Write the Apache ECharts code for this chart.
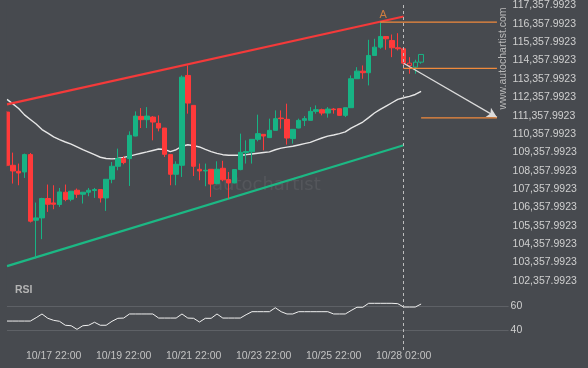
<!DOCTYPE html>
<html><head><meta charset="utf-8">
<script src="https://cdn.jsdelivr.net/npm/echarts@6/dist/echarts.min.js"></script>
<style>html,body{margin:0;padding:0;background:#474a4f}#c{width:588px;height:368px}</style>
</head><body><div id="c"></div>
<script>
const opens = [111551,108652,108326,108288,109234,105660,105785,106841,106601,106514,107183,106802,107292,107074,107183,107276,107330,106873,107890,108598,109016,109016,110246,111318,111138,111280,110937,110681,109234,108162,108652,113548,111916,108434,108342,108434,107657,108489,107874,107689,108418,109343,109386,110066,110338,110159,110556,111225,111154,110105,110681,111100,111100,111590,111682,111497,111715,111737,111372,111791,113368,113782,113695,114636,115088,115670,115452,115055,115000,114217,113999,114271];
const closes = [108652,108342,108233,109234,105606,105785,106841,106530,106530,107200,106786,107238,107074,107183,107292,107330,106873,107890,108598,109016,108799,110284,111334,111138,111334,111008,110681,109250,108162,108706,113455,112041,108598,108342,108380,107629,108434,107863,107689,108418,109359,109403,110066,110377,110246,110556,111193,111193,110137,110610,111100,111193,111590,111682,111497,111715,111682,111372,111791,113368,113782,113695,114636,115088,115670,115544,115055,115000,114217,114092,114271,114690];
const highs = [111600,109343,108745,109289,109321,106623,106880,107602,107564,107417,107602,107238,107385,107200,107417,107417,107330,107890,108832,109560,109142,110502,111590,111769,111824,111334,111372,110681,109234,108870,113548,114092,111916,108745,108745,108434,108870,108897,108288,108434,110377,110012,110066,111410,110338,111193,111644,111644,112009,110610,111193,111334,111824,111916,111737,111824,111769,111737,111791,113548,113999,114092,115490,115544,116447,115670,115778,115849,115000,114543,114402,114690];
const lows = [108598,107657,107564,107961,105535,103577,104626,106112,106258,106384,106694,106694,106873,106569,106966,106873,106623,106166,107673,108380,108706,107526,110230,110681,110681,110012,110502,109104,107564,107564,108016,111464,108070,107836,107510,106928,107618,107782,106841,107673,108380,108745,108745,109958,109468,110148,110556,110649,109778,109833,110665,110790,111100,111464,111372,111247,111464,111345,111280,111791,113368,113368,113004,114636,115000,114946,114543,114908,113912,113640,113640,114184];
const movingAvg = [112242,112000,111750,111400,111150,110900,110600,110400,110200,110050,109920,109800,109650,109500,109370,109230,109090,109020,109000,109020,109080,109150,109230,109310,109380,109460,109540,109520,109400,109500,109690,109770,109720,109650,109520,109400,109300,109230,109200,109195,109195,109230,109270,109310,109350,109380,109500,109590,109640,109690,109760,109830,109900,110020,110140,110240,110300,110380,110470,110680,110840,111010,111250,111500,111700,111880,112060,112240,112330,112410,112510,112680];
const rsiValues = [47.7,47.7,47.7,47.7,47.7,50.5,53.6,50,48.3,47.5,44.2,43.8,40.8,43.8,44.2,46.7,44.2,44.2,47.5,50,50.2,53.6,53.6,53.6,53.6,53.6,50.2,50.2,50.2,50.2,53.6,50.2,50,46.9,50,50,53.6,50.2,50.2,50.2,50.2,53,55.5,55.5,55.5,55.5,58.8,55.5,53.6,53.6,55.5,55.5,55.5,55.5,55.5,55.5,53.6,53.6,53.6,56.5,59.2,59.2,62.5,62.5,62.5,62.5,62.5,62.2,59.4,59.4,59.4,61.9];
const hollowFrom = 69;
const categoryCount = 87;
const tickIndex = [8,20,32,44,56,68];
const tickLabels = ['10/17 22:00','10/19 22:00','10/21 22:00','10/23 22:00','10/25 22:00','10/28 02:00'];
const priceTicks = [102357.9923,103357.9923,104357.9923,105357.9923,106357.9923,107357.9923,108357.9923,109357.9923,110357.9923,111357.9923,112357.9923,113357.9923,114357.9923,115357.9923,116357.9923,117357.9923];
const rsiTicks = [40,60];
const upperChannel = [[0,111970],[68,116758]];
const lowerChannel = [[0,103158],[68,109740]];
const levelA = [[64,116447],[84,116447]];
const levelBreak = [[68,113929],[84,113929]];
const levelTarget = [[71,111235],[84,111235]];
const forecastArrow = [[68,114210],[84,111263]];
const pointA = [[64,116447]];
const nowIndex = 68;

const categories = Array.from({length: categoryCount}, (_, i) => String(i));
const up = '#17b384', down = '#ff3a3a', orange = '#f08a3c', bg = '#474a4f';
const font = "'Liberation Sans', Arial, sans-serif";

const candleData = opens.map((o, i) => {
  const item = {value: [o, closes[i], lows[i], highs[i]]};
  if (i >= hollowFrom) item.itemStyle = {color: 'rgba(0,0,0,0)', color0: 'rgba(0,0,0,0)'};
  return item;
});

const chart = echarts.init(document.getElementById('c'), null, {renderer: 'canvas'});
const lineS = (data, color, width, z) => ({type: 'line', data, xAxisIndex: 0, yAxisIndex: 0, symbol: 'none', silent: true,
  lineStyle: {color, width}, z, animation: false, clip: true});

chart.setOption({
  backgroundColor: bg,
  animation: false,
  textStyle: {fontFamily: font},
  grid: [
    {left: 7, top: 4, width: 501.6, height: 346},
    {left: 7, top: 306.3, width: 501.6, height: 24}
  ],
  xAxis: [
    {type: 'category', gridIndex: 0, data: categories, boundaryGap: false, show: false},
    {type: 'category', gridIndex: 1, data: categories, boundaryGap: false,
     axisLine: {show: false}, axisTick: {show: false}, splitLine: {show: false},
     axisLabel: {interval: 0, margin: 20, color: '#c2c2c2', fontSize: 10.5, fontFamily: font,
       formatter: (v, i) => { const k = tickIndex.indexOf(i); return k >= 0 ? tickLabels[k] : ''; }}}
  ],
  yAxis: [
    {type: 'value', gridIndex: 0, position: 'right', min: 98588, max: 117412, scale: true,
     axisLine: {show: false}, axisTick: {show: false}, splitLine: {show: false},
     axisLabel: {customValues: priceTicks, margin: 4, color: '#cfcfcf', fontSize: 10.5, fontFamily: font,
       formatter: v => v.toLocaleString('en-US', {minimumFractionDigits: 4, maximumFractionDigits: 4})}},
    {type: 'value', gridIndex: 1, position: 'right', min: 40, max: 60, interval: 20,
     axisLine: {show: false}, axisTick: {show: false},
     splitLine: {show: true, lineStyle: {color: '#5e6166', width: 1}},
     axisLabel: {customValues: rsiTicks, margin: 2, color: '#cfcfcf', fontSize: 10.5, fontFamily: font}}
  ],
  graphic: [
    {type: 'text', left: 212, top: 176, silent: true, z: 0,
     style: {text: 'autochartist', font: "18px 'DejaVu Sans', sans-serif", fill: 'rgba(255,255,255,0.07)'}},
    {type: 'rect', left: 0, top: 0, silent: true, z: 100,
     shape: {width: 6.6, height: 290}, style: {fill: bg}},
    {type: 'text', x: 503.5, y: 58.5, rotation: Math.PI / 2, silent: true, z: 10,
     style: {text: 'www.autochartist.com', font: "10.5px " + font, fill: '#b8b8b8', align: 'center', verticalAlign: 'middle'}},
    {type: 'text', left: 15, top: 285, silent: true, z: 10,
     style: {text: 'RSI', font: "bold 10.5px " + font, fill: '#b4b4b4'}}
  ],
  series: [
    lineS(movingAvg, '#e6e6e6', 1.4, 2),
    lineS(upperChannel, '#f43a3a', 2.2, 3),
    lineS(lowerChannel, '#1cb884', 2.2, 3),
    {type: 'candlestick', xAxisIndex: 0, yAxisIndex: 0, data: candleData, barWidth: 5, z: 4, clip: true,
     itemStyle: {color: up, color0: down, borderColor: up, borderColor0: down, borderWidth: 1},
     markLine: {silent: true, symbol: ['none', 'none'], label: {show: false}, z: 9,
       lineStyle: {color: '#bdbdbd', type: [3, 3], width: 1},
       data: [{xAxis: nowIndex}]}},
    lineS(levelA, orange, 1.2, 5),
    lineS(levelBreak, orange, 1.2, 5),
    lineS(levelTarget, orange, 1.2, 5),
    {type: 'line', xAxisIndex: 0, yAxisIndex: 0, data: [], symbol: 'none', z: 6,
     markLine: {silent: true, symbol: ['none', 'arrow'], symbolSize: [8, 10], label: {show: false},
       lineStyle: {color: '#dcdcdc', type: 'solid', width: 1.2},
       data: [[{coord: forecastArrow[0]}, {coord: forecastArrow[1]}]]}},
    {type: 'scatter', xAxisIndex: 0, yAxisIndex: 0, data: pointA, symbolSize: 1, z: 7,
     itemStyle: {color: 'rgba(0,0,0,0)'},
     label: {show: true, position: 'top', distance: 1, offset: [3, 0], formatter: 'A', color: orange, fontSize: 11, fontFamily: font}},
    {type: 'line', xAxisIndex: 1, yAxisIndex: 1, data: rsiValues, symbol: 'none', clip: false,
     lineStyle: {color: '#f0f0f0', width: 1}, z: 5}
  ]
});
</script></body></html>
